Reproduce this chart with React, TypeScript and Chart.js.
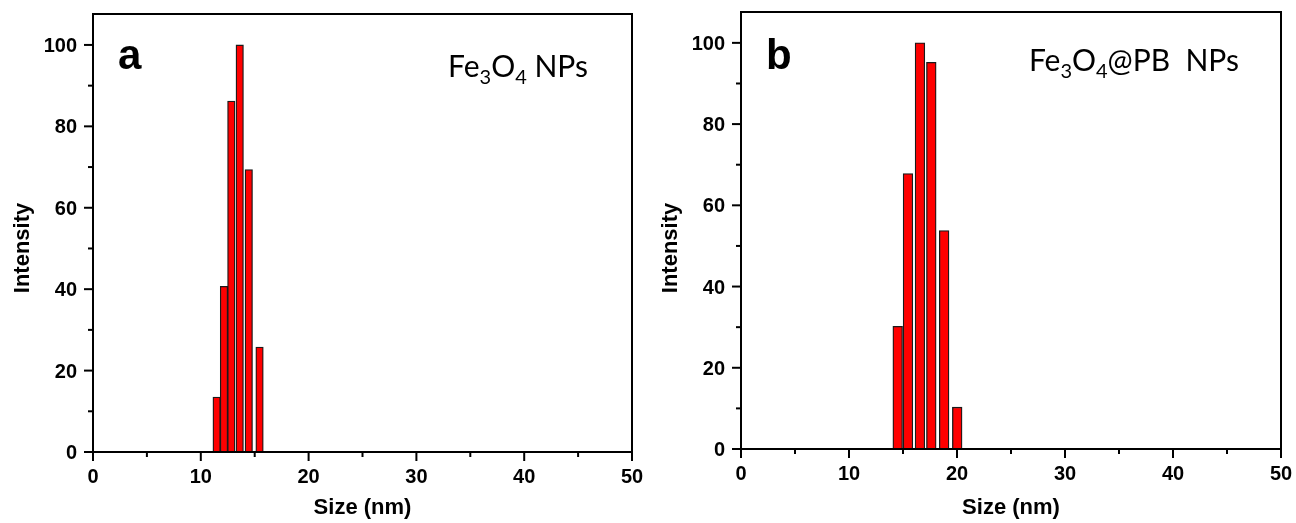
import React, { useEffect, useRef } from "react";
import { Chart, registerables } from "chart.js";

Chart.register(...registerables);

// ---- data ----
const sizesA = [11.47, 12.15, 12.83, 13.61, 14.45, 15.45];
const intensityA = [13.5, 40.7, 86.2, 100, 69.4, 25.8];
const sizesB = [14.51, 15.46, 16.57, 17.62, 18.81, 20.02];
const intensityB = [30.2, 67.8, 100, 95.2, 53.8, 10.3];

const xMajorTicks = [0, 10, 20, 30, 40, 50];
const xMinorTicks = [5, 15, 25, 35, 45];
const yMajorTicks = [0, 20, 40, 60, 80, 100];
const yMinorTicks = [10, 30, 50, 70, 90];

const xTitle = "Size (nm)";
const yTitle = "Intensity";

type Seg = { t: string; sub?: boolean };
const labelA: Seg[] = [{ t: "Fe" }, { t: "3", sub: true }, { t: "O" }, { t: "4", sub: true }, { t: " NPs" }];
const labelB: Seg[] = [{ t: "Fe" }, { t: "3", sub: true }, { t: "O" }, { t: "4", sub: true }, { t: "@PB  NPs" }];

const TICK_FONT = "bold 20px 'Liberation Sans', Arial, sans-serif";
const TITLE_FONT = "bold 22px 'Liberation Sans', Arial, sans-serif";
const LETTER_FONT = "bold 42px 'Liberation Sans', Arial, sans-serif";
const SAMPLE_FONT = "30px Lato, 'Open Sans', sans-serif";
const SUB_FONT = "20px Lato, 'Open Sans', sans-serif";

interface PanelCfg {
  sizes: number[];
  values: number[];
  letter: string;
  label: Seg[];
  barPx: number;
  padTop: number;
  padRight: number;
  xHeight: number;
  letterBaseline: number;
  labelRightGap: number;
  labelBaseline: number;
}

function makePlugin(cfg: PanelCfg) {
  return {
    id: "decor",
    afterDatasetsDraw(chart: any) {
      const ctx = chart.ctx as CanvasRenderingContext2D;
      const ca = chart.chartArea;
      const xs = chart.scales.x;
      const ys = chart.scales.y;
      ctx.save();
      ctx.strokeStyle = "#000";
      ctx.lineWidth = 2;
      ctx.strokeRect(ca.left, ca.top, ca.right - ca.left, ca.bottom - ca.top);
      const drawX = (vals: number[], len: number) => {
        vals.forEach((v) => {
          const px = xs.getPixelForValue(v);
          ctx.beginPath();
          ctx.moveTo(px, ca.bottom);
          ctx.lineTo(px, ca.bottom + len);
          ctx.stroke();
        });
      };
      const drawY = (vals: number[], len: number) => {
        vals.forEach((v) => {
          const py = ys.getPixelForValue(v);
          ctx.beginPath();
          ctx.moveTo(ca.left, py);
          ctx.lineTo(ca.left - len, py);
          ctx.stroke();
        });
      };
      drawX(xMajorTicks, 9);
      drawX(xMinorTicks, 5);
      drawY(yMajorTicks, 9);
      drawY(yMinorTicks, 5);

      ctx.fillStyle = "#000";
      // tick labels
      ctx.font = TICK_FONT;
      ctx.textBaseline = "alphabetic";
      ctx.textAlign = "center";
      xMajorTicks.forEach((v) => {
        ctx.fillText(String(v), xs.getPixelForValue(v), ca.bottom + 31);
      });
      ctx.textAlign = "right";
      yMajorTicks.forEach((v) => {
        ctx.fillText(String(v), ca.left - 16, ys.getPixelForValue(v) + 7);
      });

      // axis titles
      ctx.font = TITLE_FONT;
      ctx.textAlign = "center";
      ctx.textBaseline = "middle";
      ctx.fillText(xTitle, (ca.left + ca.right) / 2, 508);
      ctx.save();
      ctx.translate(23, 248);
      ctx.rotate(-Math.PI / 2);
      ctx.fillText(yTitle, 0, 0);
      ctx.restore();

      // panel letter
      ctx.font = LETTER_FONT;
      ctx.textAlign = "left";
      ctx.textBaseline = "alphabetic";
      ctx.fillText(cfg.letter, ca.left + 25, cfg.letterBaseline);

      // sample label with subscripts
      let total = 0;
      cfg.label.forEach((s) => {
        ctx.font = s.sub ? SUB_FONT : SAMPLE_FONT;
        total += ctx.measureText(s.t).width;
      });
      let x = ca.right - cfg.labelRightGap - total;
      cfg.label.forEach((s) => {
        ctx.font = s.sub ? SUB_FONT : SAMPLE_FONT;
        ctx.fillText(s.t, x, cfg.labelBaseline + (s.sub ? 7 : 0));
        x += ctx.measureText(s.t).width;
      });
      ctx.restore();
    },
  };
}

function Panel({ cfg, left }: { cfg: PanelCfg; left: number }) {
  const ref = useRef<HTMLCanvasElement | null>(null);
  useEffect(() => {
    if (!ref.current) return;
    const chart = new Chart(ref.current, {
      type: "bar",
      data: {
        datasets: [
          {
            data: cfg.sizes.map((s, i) => ({ x: s, y: cfg.values[i] })),
            backgroundColor: "#ff0000",
            borderColor: "#1a1a1a",
            borderWidth: 1.3,
            barThickness: cfg.barPx,
            borderSkipped: false,
          } as any,
        ],
      },
      options: {
        animation: false,
        responsive: false,
        devicePixelRatio: 1,
        layout: { padding: { left: 0, top: cfg.padTop, right: cfg.padRight, bottom: 0 } },
        plugins: { legend: { display: false }, tooltip: { enabled: false }, title: { display: false } },
        scales: {
          x: {
            type: "linear",
            min: 0,
            max: 50,
            offset: false,
            grid: { display: false },
            border: { display: false },
            afterFit: (s: any) => {
              s.height = cfg.xHeight;
            },
            ticks: { display: false },
          },
          y: {
            type: "linear",
            min: 0,
            max: 107.6,
            grid: { display: false },
            border: { display: false },
            afterFit: (s: any) => {
              s.width = 93;
            },
            ticks: { display: false },
          },
        },
      } as any,
      plugins: [makePlugin(cfg)],
    });
    return () => chart.destroy();
  }, []);
  return (
    <canvas
      ref={ref}
      width={648}
      height={523}
      style={{ position: "absolute", left, top: 0, width: 648, height: 523 }}
    />
  );
}

const cfgA: PanelCfg = {
  sizes: sizesA,
  values: intensityA,
  letter: "a",
  label: labelA,
  barPx: 7.5,
  padTop: 14,
  padRight: 16,
  xHeight: 71,
  letterBaseline: 69,
  labelRightGap: 44,
  labelBaseline: 77,
};

const cfgB: PanelCfg = {
  sizes: sizesB,
  values: intensityB,
  letter: "b",
  label: labelB,
  barPx: 9.7,
  padTop: 12,
  padRight: 15,
  xHeight: 74,
  letterBaseline: 69,
  labelRightGap: 42,
  labelBaseline: 71,
};

export default function App() {
  return (
    <div style={{ position: "fixed", left: 0, top: 0, width: 1296, height: 523, background: "#fff" }}>
      <Panel cfg={cfgA} left={0} />
      <Panel cfg={cfgB} left={648} />
    </div>
  );
}
